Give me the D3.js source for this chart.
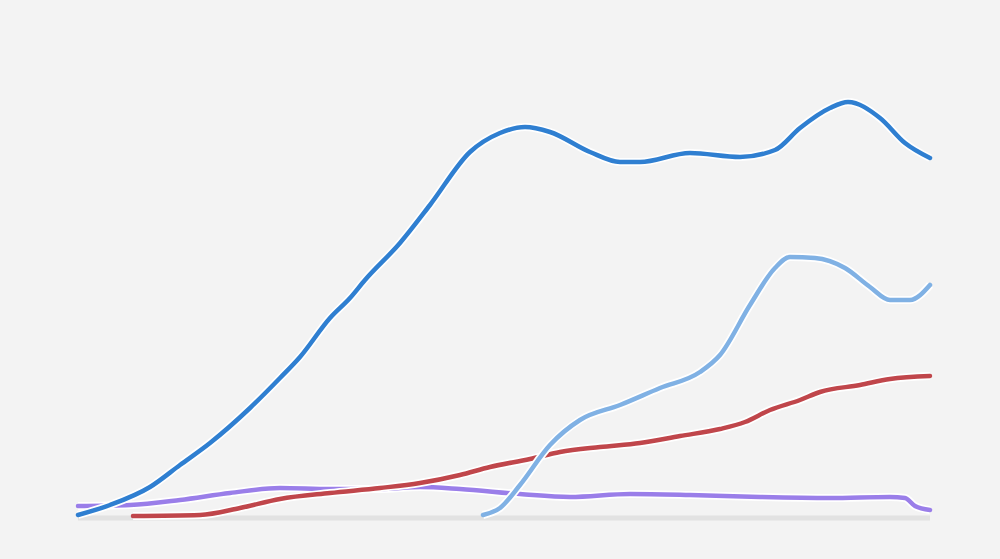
<!DOCTYPE html>
<html><head><meta charset="utf-8">
<script src="https://cdn.jsdelivr.net/npm/d3@7"></script>
<style>html,body{margin:0;background:#f3f3f3;}</style>
</head><body><div id="chart"></div>
<script>
// x in days from start, y in index units
const darkX = [0,32,72,102,132,172,202,222,252,272,287,322,352,392,422,447,472,512,542,562,612,662,697,722,752,770,802,827,852];
const darkY = [0,10,28,50,72,107,137,158,197,217,235,272,310,363,382,388,383,363,353,353,362,358,365,387,407,413,397,372,357];
const lightX = [405,422,442,472,502,542,582,622,642,672,697,712,737,767,792,812,832,852];
const lightY = [0,7,30,70,95,110,127,143,160,210,247,258,257,247,228,215,215,230];
const redX = [55,122,162,202,252,302,342,382,412,452,482,522,562,602,642,667,692,722,742,782,812,852];
const redY = [-1,0,7,16,22,27,32,40,48,56,63,68,72,79,86,93,105,115,123,130,136,139];
const purpleX = [0,52,102,152,202,252,302,342,382,442,492,552,612,682,752,812,827,837,852];
const purpleY = [9,10,15,22,27,26,26,28,26,21,18,21,20,18,17,18,17,9,5];

const series = [
  {x: purpleX, y: purpleY, color: '#9a7ee9'},
  {x: redX, y: redY, color: '#c0464b'},
  {x: lightX, y: lightY, color: '#80b1e4'},
  {x: darkX, y: darkY, color: '#2f7fd1'}
];

const width = 1000, height = 559;
const svg = d3.select('#chart').append('svg')
  .attr('width', width).attr('height', height);

const x = d3.scaleLinear().domain([0, 852]).range([78, 930]);
const y = d3.scaleLinear().domain([0, 450]).range([515, 65]);

// baseline
svg.append('line')
  .attr('x1', x(0)).attr('x2', x(852))
  .attr('y1', y(0) + 3).attr('y2', y(0) + 3)
  .attr('stroke', '#e2e2e2').attr('stroke-width', 5);

const line = d3.line()
  .x(d => x(d[0])).y(d => y(d[1]))
  .curve(d3.curveMonotoneX);

series.forEach(s => {
  const pts = s.x.map((v, i) => [v, s.y[i]]);
  svg.append('path').attr('d', line(pts))
    .attr('fill', 'none').attr('stroke', '#fff')
    .attr('stroke-width', 8).attr('stroke-linejoin', 'round');
  svg.append('path').attr('d', line(pts))
    .attr('fill', 'none').attr('stroke', s.color)
    .attr('stroke-width', 4.5).attr('stroke-linecap', 'round');
});
</script>
</body></html>
